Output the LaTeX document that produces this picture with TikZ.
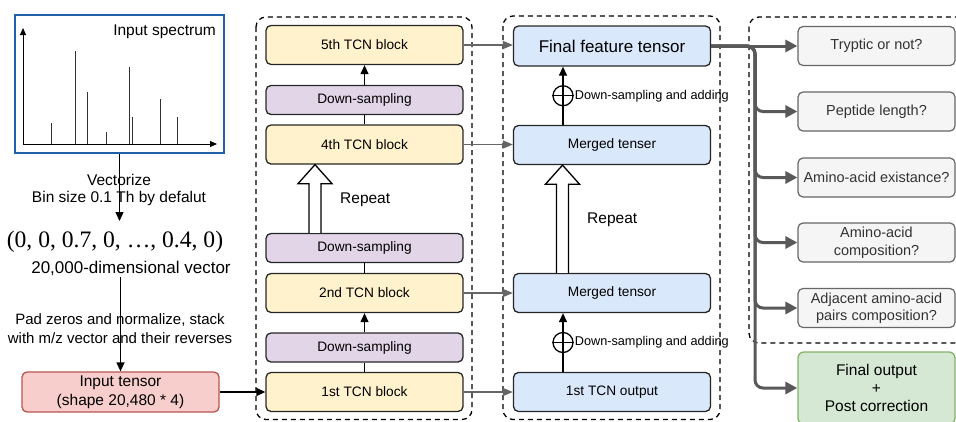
\documentclass[tikz,border=0pt]{standalone}
\usepackage{fontspec}
\setmainfont{Liberation Sans}
\newfontfamily\timesfont{Liberation Serif}
\usetikzlibrary{arrows.meta,calc}
\definecolor{yel}{HTML}{FFF2CC}
\definecolor{pur}{HTML}{E1D5E7}
\definecolor{blu}{HTML}{DAE8FC}
\definecolor{gry}{HTML}{F5F5F5}
\definecolor{gryb}{HTML}{666666}
\definecolor{grn}{HTML}{D5E8D4}
\definecolor{grnb}{HTML}{82B366}
\definecolor{redf}{HTML}{F8CECC}
\definecolor{redb}{HTML}{B85450}
\definecolor{specb}{HTML}{2060A8}
\definecolor{conn}{HTML}{595959}
\begin{document}
\begin{tikzpicture}[x=1pt,y=-1pt,
  blk/.style={draw=black!85, line width=1.3pt, rounded corners=5pt, minimum width=197pt, inner sep=0pt, font=\fontsize{13.7}{16}\selectfont},
  tcn/.style={blk, fill=yel, minimum height=39pt},
  dsm/.style={blk, fill=pur, minimum height=29pt},
  ten/.style={blk, fill=blu, minimum height=39pt},
  qbox/.style={draw=gryb, line width=1.2pt, fill=gry, rounded corners=5pt, minimum width=157pt, minimum height=39pt, inner sep=0pt, align=center, text=black!80, font=\fontsize{14.5}{17.5}\selectfont},
  cont/.style={draw, dash pattern=on 5pt off 4pt, line width=1.3pt, rounded corners=10pt},
  barr/.style={line width=1.3pt, -{Triangle[length=9pt,width=8pt]}},
  bline/.style={line width=1.3pt},
  garr/.style={draw=gryb, line width=1.4pt, -{Triangle[length=10pt,width=8pt]}},
  tarr/.style={draw=conn, line width=3pt, rounded corners=8pt, -{Triangle[length=12pt,width=12pt]}},
  hol/.style={line width=1.3pt, fill=white},
  txt/.style={font=\fontsize{15.5}{17}\selectfont, inner sep=1pt},
  plus/.style={circle, draw, line width=1.3pt, minimum size=20pt, inner sep=0pt}
]
\useasboundingbox (0,0) rectangle (956,421);
\clip (0,0) rectangle (956,421);

% containers
\draw[cont] (256,17) rectangle (472,419.5);
\draw[cont] (503,16) rectangle (720,419.5);
\draw[cont] (749,17) rectangle (990,343);

% spectrum
\node[draw=specb, line width=2pt, minimum width=209pt, minimum height=138pt, inner sep=0pt] (spec) at (119.5,84) {};
\draw[line width=1pt, -{Triangle[length=7pt,width=6pt]}] (23,144) -- (23,28);
\draw[line width=1pt, -{Triangle[length=7pt,width=6pt]}] (23,144) -- (217,144);
\foreach \px/\py in {51/123, 75/51, 87/92, 106/132, 129/67, 132/117, 160/99, 177/117}
  \draw[line width=1pt, black!80] (\px,144) -- (\px,\py);
\node[txt, anchor=east] (stitle) at (217,32) {Input spectrum};

% vector texts
\coordinate (vtop) at (119.5,221);
\draw[barr] (spec.south) -- (vtop);
\node[txt, align=center, font=\fontsize{15.5}{17}\selectfont] (vz) at (119,190) {Vectorize\\Bin size 0.1 Th by defalut};
\node[inner sep=0pt, font=\timesfont\fontsize{23.6}{26}\selectfont] (vec) at (115,242) {(0, 0, 0.7, 0, …, 0.4, 0)};
\node[inner sep=2pt, font=\fontsize{17}{20}\selectfont] (dim) at (131,268) {20,000-dimensional vector};

\node[draw=redb, fill=redf, line width=1.3pt, rounded corners=5pt, minimum width=197pt, minimum height=40pt, inner sep=0pt, align=center, font=\fontsize{15.5}{19}\selectfont] (in) at (120.5,392) {Input tensor\\(shape 20,480 * 4)};
\draw[barr] (in.north |- dim.south) -- (in.north);
\node[txt, align=center, font=\fontsize{15}{19}\selectfont] (pz) at (120,328.5) {Pad zeros and normalize, stack\\with m/z vector and their reverses};

% column 1
\node[tcn] (b5) at (364.5,45) {5th TCN block};
\node[dsm] (d4) at (364.5,100) {Down-sampling};
\node[tcn] (b4) at (364.5,144.5) {4th TCN block};
\node[dsm] (d2) at (364.5,248) {Down-sampling};
\node[tcn] (b2) at (364.5,293) {2nd TCN block};
\node[dsm] (d1) at (364.5,347.5) {Down-sampling};
\node[tcn] (b1) at (364.5,392) {1st TCN block};
\draw[barr] (d4.north) -- (b5.south);
\draw[bline] (b4.north) -- (d4.south);
\draw[bline] (b2.north) -- (d2.south);
\draw[barr] (d1.north) -- (b2.south);
\draw[bline] (b1.north) -- (d1.south);
\draw[barr] (in.east) -- (b1.west);

% hollow arrow 1
\coordinate (r1s) at ([xshift=-49.5pt]d2.north);
\coordinate (r1t) at ([xshift=-49.5pt]b4.south);
\draw[hol] ($(r1s)+(-6,0)$) -- ($(r1t)+(-6,19)$) -- ($(r1t)+(-17,19)$) -- (r1t) -- ($(r1t)+(17,19)$) -- ($(r1t)+(6,19)$) -- ($(r1s)+(6,0)$);
\node[txt, anchor=west] (rp1) at (339,200) {Repeat};

% column 2
\node[ten, font=\fontsize{17}{20}\selectfont, minimum height=40pt] (ff) at (612,46) {Final feature tensor};
\node[ten] (m2) at (612,145) {Merged tenser};
\node[ten] (m1) at (612,293) {Merged tensor};
\node[ten] (o1) at (612,392) {1st TCN output};

\draw[barr] ([xshift=-49pt]m2.north) -- ([xshift=-49pt]ff.south);
\node[plus] (c2) at ($([xshift=-49pt]m2.north)!0.5!([xshift=-49pt]ff.south)$) {};
\draw[bline] (c2.west) -- (c2.east);
\node[anchor=west, inner sep=0pt, font=\fontsize{12.7}{15}\selectfont] (l2) at ([xshift=1pt]c2.east) {Down-sampling and adding};

\draw[barr] ([xshift=-49pt]o1.north) -- ([xshift=-49pt]m1.south);
\node[plus] (c1) at ($([xshift=-49pt]o1.north)!0.5!([xshift=-49pt]m1.south)$) {};
\draw[bline] (c1.west) -- (c1.east);
\node[anchor=west, inner sep=0pt, font=\fontsize{12.7}{15}\selectfont] (l1) at ([xshift=1pt]c1.east) {Down-sampling and adding};

% hollow arrow 2
\coordinate (r2s) at ([xshift=-49.5pt]m1.north);
\coordinate (r2t) at ([xshift=-49.5pt]m2.south);
\draw[hol] ($(r2s)+(-6,0)$) -- ($(r2t)+(-6,19)$) -- ($(r2t)+(-17,19)$) -- (r2t) -- ($(r2t)+(17,19)$) -- ($(r2t)+(6,19)$) -- ($(r2s)+(6,0)$);
\node[txt, anchor=west] (rp2) at (586,220) {Repeat};

% gray arrows col1 -> col2
\draw[garr] (b5.east) -- (ff.west |- b5.east);
\draw[garr] (b4.east) -- (m2.west |- b4.east);
\draw[garr] (b2.east) -- (m1.west |- b2.east);
\draw[garr] (b1.east) -- (o1.west |- b1.east);

% column 3
\node[qbox] (tr) at (876.5,46) {Tryptic or not?};
\node[qbox] (pl) at (876.5,111.5) {Peptide length?};
\node[qbox] (ae) at (876.5,177.5) {Amino-acid existance?};
\node[qbox] (ac) at (876.5,242.5) {Amino-acid\\composition?};
\node[qbox] (adj) at (876.5,308) {Adjacent amino-acid\\pairs composition?};
\node[draw=grnb, fill=grn, line width=1.3pt, rounded corners=6pt, minimum width=157pt, minimum height=72pt, inner sep=0pt, align=center, font=\fontsize{15.5}{18}\selectfont] (fo) at (876.5,388) {Final output\\+\\Post correction};

\coordinate (trunk) at (755,46);
\foreach \t in {fo, adj, ac, ae, pl}
  \draw[tarr] (ff.east) -- (trunk) |- (\t.west);
\draw[tarr] (ff.east) -- (tr.west);
\end{tikzpicture}
\end{document}
